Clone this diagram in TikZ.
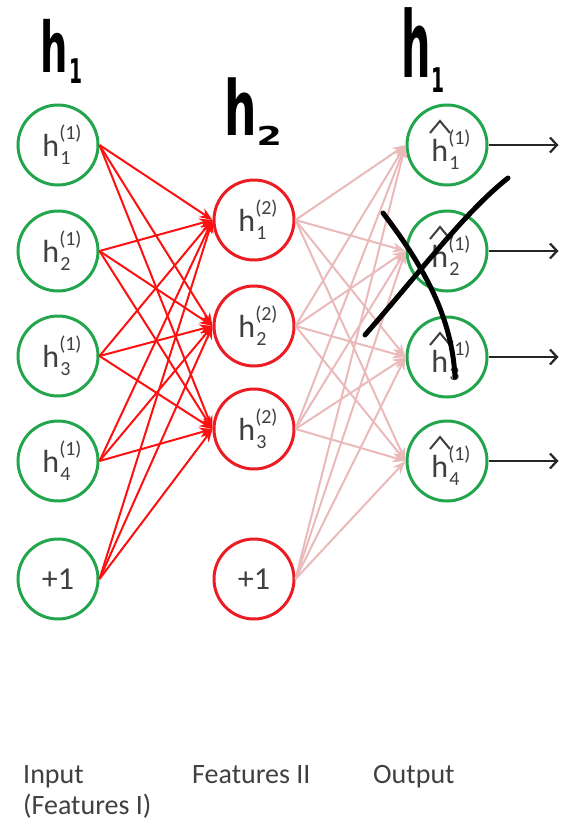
\documentclass[tikz,border=0pt]{standalone}
\usepackage{fontspec}
\setmainfont{Carlito}
\newfontfamily\handfont{DejaVu Sans}
\usetikzlibrary{arrows.meta}
\definecolor{ngreen}{RGB}{34,165,76}
\definecolor{nred}{RGB}{236,28,36}
\definecolor{ered}{RGB}{252,16,16}
\definecolor{npink}{RGB}{234,186,186}
\definecolor{ntext}{RGB}{64,64,64}
\newcommand\hlab[2]{\hspace*{8pt}h{\fontsize{20}{20}\selectfont\makebox[0pt][l]{\raisebox{-8pt}{\hspace{1pt}#1}}\raisebox{17pt}{(#2)}}}
\newcommand\hhlab[2]{\rule{0pt}{40pt}\hlab{#1}{#2}}
\newcommand\handsub[3]{{\fontsize{#1}{#1}\selectfont\raisebox{#2}{#3}}}
\begin{document}
\begin{tikzpicture}[x=1pt,y=-1pt,
  every node/.style={inner sep=0pt},
  neuron/.style={circle,minimum size=80pt,line width=3pt,text=ntext,font=\fontsize{32}{32}\selectfont},
  gnode/.style={neuron,draw=ngreen},
  rnode/.style={neuron,draw=nred},
  redge/.style={ered,line width=2pt,-{Stealth[length=13pt,width=10pt]}},
  pedge/.style={npink,line width=2pt,-{Stealth[length=13pt,width=10pt]}},
  oedge/.style={black!85,line width=2.2pt,-{Straight Barb[length=7pt,width=15pt]}},
  hatmark/.style={ntext,line width=2pt},
  pen/.style={black,line width=5pt,line cap=round,line join=round},
  hand/.style={text=black,anchor=base west},
  caption/.style={text=ntext,font=\fontsize{28}{31}\selectfont,anchor=base west}
]
\useasboundingbox (0,0) rectangle (561,827);

% input layer
\foreach \i/\y in {1/145,2/251,3/356,4/461}
  \node[gnode] (l\i) at (58,\y) {\hlab{\i}{1}};
\node[gnode] (l5) at (58,579) {+1};

% hidden layer
\foreach \i/\y in {1/220,2/326,3/429}
  \node[rnode] (m\i) at (254,\y) {\hlab{\i}{2}};
\node[rnode] (m4) at (254,579) {+1};

% output layer
\foreach \i/\y in {1/145,2/251,3/357,4/461}
  \node[gnode] (r\i) at (447,\y) {\hhlab{\i}{1}};
\foreach \i in {1,...,4}
  \draw[hatmark] ([shift={(-17,-12)}]r\i.center) -- ([shift={(-7,-24)}]r\i.center) -- ([shift={(3,-12)}]r\i.center);

% edges
\foreach \a in {1,...,5}
  \foreach \b in {1,2,3}
    \draw[redge] (l\a.east) -- (m\b.west);
\foreach \a in {1,...,4}
  \foreach \b in {1,...,4}
    \draw[pedge] (m\a.east) -- (r\b.west);
\foreach \b in {1,...,4} {
  \path (r\b.east) ++(70,0) coordinate (o\b);
  \draw[oedge] (r\b.east) -- (o\b);
}

% captions
\node[caption] (capin) at (23,783) {Input};
\node[caption] (capin2) at (23,814) {(Features I)};
\node[caption] (capmid) at (192,783) {Features II};
\node[caption] (capout) at (373,783) {Output};

% handwritten annotations
\node[hand,font=\handfont\bfseries\fontsize{70}{70}\selectfont] (hwa) at (40,72)
  {\scalebox{0.55}[1]{h}\hspace{2pt}\handsub{34}{-11pt}{\scalebox{0.55}[1]{1}}};
\node[hand,font=\handfont\bfseries\fontsize{76}{76}\selectfont] (hwb) at (224,135)
  {\scalebox{0.6}[1]{h}\hspace{0pt}\handsub{26}{-10pt}{\scalebox{1.4}[1]{2}}};
\node[hand,font=\handfont\bfseries\fontsize{92}{92}\selectfont] (hwc) at (401,77)
  {\scalebox{0.45}[1]{h}\hspace{1pt}\handsub{34}{-15pt}{\scalebox{0.55}[1]{1}}};

% cross-out strokes
\draw[pen] (365,335) .. controls (420,272) and (465,212) .. (508,178);
\draw[pen] (383,213) .. controls (425,268) and (452,318) .. (455,377);
\end{tikzpicture}
\end{document}
